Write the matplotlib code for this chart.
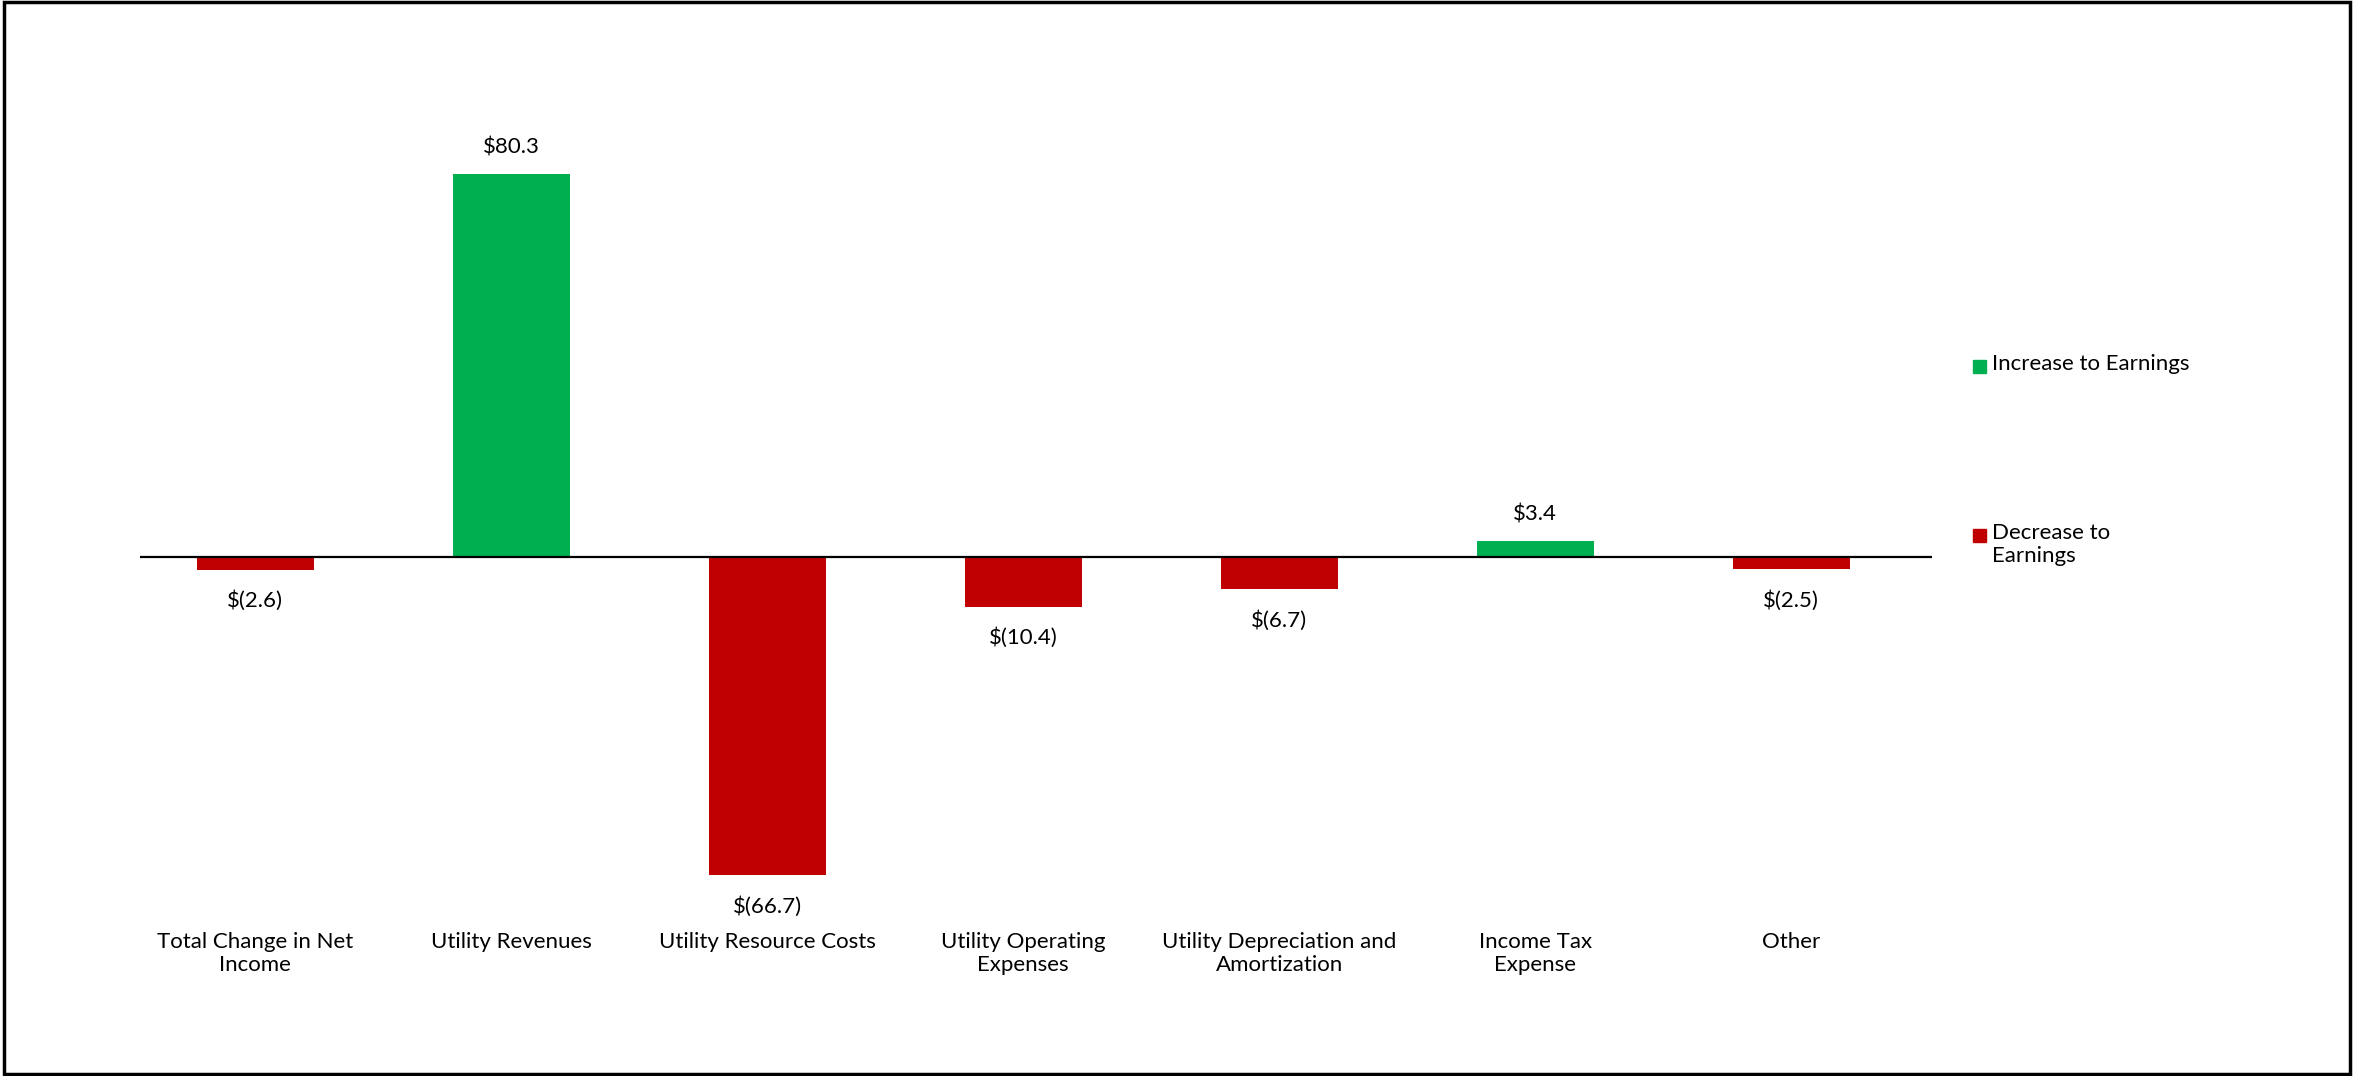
import matplotlib
matplotlib.use("Agg")
import matplotlib.pyplot as plt
from matplotlib.patches import Rectangle

categories = ["Total Change in Net\nIncome", "Utility Revenues", "Utility Resource Costs",
              "Utility Operating\nExpenses", "Utility Depreciation and\nAmortization",
              "Income Tax\nExpense", "Other"]
values = [-2.6, 80.3, -66.7, -10.4, -6.7, 3.4, -2.5]
legend_labels = ["Increase to Earnings", "Decrease to\nEarnings"]

GREEN = "#00B050"
RED = "#C00000"
FONT = ["Lato", "DejaVu Sans"]
FS = 16

W, H = 2354, 1076
fig = plt.figure(figsize=(W / 100, H / 100), dpi=100)
plt.rcParams['font.family'] = FONT

ax_l, ax_r = 140, 1932
ax_top, ax_bot = 152, 915
ax = fig.add_axes([ax_l / W, (H - ax_bot) / H, (ax_r - ax_l) / W, (ax_bot - ax_top) / H])
ax.set_xlim(-0.45, 6.55)
ax.set_ylim(-75, 85)

x = list(range(len(categories)))
colors = [GREEN if v >= 0 else RED for v in values]
ax.bar(x, values, width=0.457, color=colors, zorder=2)
ax.axhline(0, color="black", lw=1.6, zorder=3)

def fmt(v):
    return f"${v:.1f}" if v >= 0 else f"$({abs(v):.1f})"

for xi, v in zip(x, values):
    off = 27 if v >= 0 else -31
    ax.annotate(fmt(v), (xi, v), xytext=(0, off), textcoords="offset pixels",
                ha="center", va="center", fontsize=FS, color="black")

ax.set_xticks(x)
ax.set_xticklabels(categories, fontsize=FS, linespacing=1.18, va="top")
ax.tick_params(axis="x", length=0, pad=12)
ax.set_yticks([])
for s in ax.spines.values():
    s.set_visible(False)

# legend
entries = [(GREEN, legend_labels[0], 366), (RED, legend_labels[1], 535)]
for col, lab, yc in entries:
    fig.patches.append(Rectangle((1973 / W, (H - yc - 6.5) / H), 13 / W, 13 / H,
                                 transform=fig.transFigure, color=col))
    fig.text(1992 / W, (H - yc + 12) / H, lab, fontsize=FS, ha="left", va="top",
             linespacing=1.18)

# outer frame
fig.patches.append(Rectangle((0.0015, 0.002), 0.997, 0.996, transform=fig.transFigure,
                             fill=False, edgecolor="black", lw=2.5))

fig.savefig("out.png", dpi=100, facecolor="white")
